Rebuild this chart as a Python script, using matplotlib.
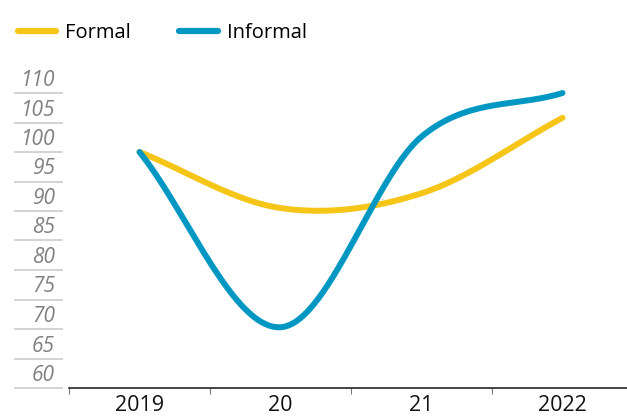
import numpy as np
import matplotlib
matplotlib.use("Agg")
import matplotlib.pyplot as plt
import matplotlib.transforms as mtransforms

plt.rcParams["font.family"] = ["Open Sans", "DejaVu Sans"]

years = ["2019", "20", "21", "2022"]
formal = [100, 90.5, 93, 105.8]
informal = [100, 70.3, 102.6, 110]
y_ticks = [60, 65, 70, 75, 80, 85, 90, 95, 100, 105, 110]

yellow = "#f5c518"
blue = "#0098c3"


def smooth(values, n=60):
    # cubic hermite (catmull-rom) through the points, for drawing only
    v = np.asarray(values, dtype=float)
    m = np.zeros_like(v)
    m[1:-1] = (v[2:] - v[:-2]) / 2
    m[0] = v[1] - v[0]
    m[-1] = v[-1] - v[-2]
    xs, ys = [], []
    for i in range(len(v) - 1):
        t = np.linspace(0, 1, n)
        h00 = 2 * t**3 - 3 * t**2 + 1
        h10 = t**3 - 2 * t**2 + t
        h01 = -2 * t**3 + 3 * t**2
        h11 = t**3 - t**2
        xs.append(i + t)
        ys.append(h00 * v[i] + h10 * m[i] + h01 * v[i + 1] + h11 * m[i + 1])
    return np.concatenate(xs), np.concatenate(ys)


fig = plt.figure(figsize=(6.27, 4.16), dpi=100)
W, H = 627, 416
ax = fig.add_axes([69 / W, (H - 388) / H, 1 - 69 / W, (388 - 60) / H])

x, y = smooth(formal)
ax.plot(x, y, color=yellow, lw=4.3, solid_capstyle="round", label="Formal")
x, y = smooth(informal)
ax.plot(x, y, color=blue, lw=4.3, solid_capstyle="round", label="Informal")

ax.set_xlim(-0.5, -0.5 + 558 / 141)
ax.set_ylim(60, 60 + 328 / 5.9)

for s in ["top", "right", "left"]:
    ax.spines[s].set_visible(False)
ax.spines["bottom"].set_color("#111111")
ax.spines["bottom"].set_linewidth(1.1)

ax.set_xticks(range(len(years)))
ax.set_xticklabels(years, fontsize=15.5, color="#111111")
ax.set_xticks(np.arange(len(years)) - 0.5, minor=True)
ax.tick_params(axis="x", which="major", length=0, pad=5)
ax.tick_params(axis="x", which="minor", length=4, color="#777777", width=0.8)

ax.set_yticks(y_ticks)
ax.set_yticklabels([str(v) for v in y_ticks], fontsize=15, color="#808080",
                   style="italic")
ax.tick_params(axis="y", length=0, pad=10)
shift = mtransforms.ScaledTranslation(0, 15 / 100, fig.dpi_scale_trans)
for lab in ax.get_yticklabels():
    lab.set_transform(lab.get_transform() + shift)

trans = mtransforms.blended_transform_factory(ax.transAxes, ax.transData)
ax.hlines(y_ticks, (14 - 69) / 558, (63 - 69) / 558, transform=trans,
          color="#cccccc", lw=1.2, clip_on=False)

leg = fig.legend(loc="upper left", bbox_to_anchor=(10 / W, 1 - 15 / H), ncol=2,
                 frameon=False, fontsize=14.5, handlelength=1.9,
                 handletextpad=0.45, columnspacing=2.4, borderaxespad=0)
for h in leg.legend_handles:
    h.set_linewidth(4.5)
    h.set_solid_capstyle("round")

fig.savefig("out.png", dpi=100)
